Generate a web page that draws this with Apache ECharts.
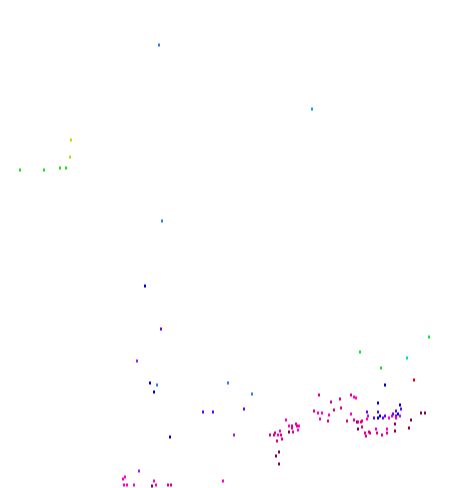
<!DOCTYPE html>
<html>
<head>
<meta charset="utf-8">
<script src="https://cdn.jsdelivr.net/npm/echarts@6/dist/echarts.min.js"></script>
<style>html,body{margin:0;padding:0;background:#fff}#c{width:465px;height:488px}</style>
</head>
<body>
<div id="c"></div>
<script>
// x values, y values (y axis inverted), and colour-group value for each point
var xs = [159,312,71,70,20,44,60,66,162,
  145,161,137,150,157,154,228,203,213,170,252,244,234,
  429,360,407,381,414,385,378,400,401,
  139,125,123,124,127,134,154,156,152,168,171,223,
  286,289,292,296,297,299,292,280,289,293,298,275,270,274,278,281,277,282,279,276,279,
  319,331,340,351,354,314,318,322,329,334,341,320,328,351,347,354,357,358,356,
  367,378,368,367,374,378,380,383,385,389,392,393,396,398,396,400,396,411,421,425,395,409,395,
  362,365,366,369,370,377,382,387,387,376,362,358,361];
var ys = [45,109,140,157,170,170,168,168,221,
  286,329,361,383,385,392,383,412,412,437,394,409,435,
  337,352,358,368,380,385,403,405,409,
  471,477,479,485,485,485,481,485,486,485,485,481,
  420,426,426,424,426,426,428,431,432,432,430,433,435,435,435,435,441,439,452,456,464,
  395,402,399,395,397,411,413,413,415,410,408,419,421,414,421,420,422,429,398,
  412,412,416,419,418,418,416,418,416,418,416,414,411,414,416,416,418,420,413,413,424,428,431,
  427,433,436,432,433,433,435,429,433,429,421,422,422];
var groups = [4,3,0,0,1,1,1,1,4,
  5,6,7,5,4,5,4,6,6,5,4,6,7,
  1,1,2,1,11,5,5,5,6,
  7,8,8,8,8,8,8,8,10,9,9,8,
  8,8,9,9,9,8,9,8,10,9,8,9,9,9,8,9,9,9,10,10,10,
  9,9,9,9,8,9,8,8,8,9,9,8,9,8,9,9,10,10,8,
  6,6,7,8,6,5,5,6,6,8,8,6,6,5,6,7,8,10,10,10,10,10,10,
  9,9,9,9,9,9,9,8,9,8,9,9,9];
var groupColors = ['#a8e800','#14e61e','#00e68c','#00a8ff','#2f7bff','#0000d8','#6a00ff','#a020f0','#ff00d0','#e0008a','#8a0050','#ee0000'];

var data = xs.map(function(x,i){ return [x, ys[i], groups[i]]; });
var chart = echarts.init(document.getElementById('c'), null, {renderer:'canvas'});
chart.setOption({
  animation:false,
  grid:{left:0,right:0,top:0,bottom:0},
  xAxis:{type:'value',min:0,max:465,show:false},
  yAxis:{type:'value',min:0,max:488,inverse:true,show:false},
  visualMap:{show:false,type:'continuous',dimension:2,min:0,max:11,inRange:{color:groupColors}},
  series:[{type:'scatter',symbol:'rect',symbolSize:[2,3],data:data,itemStyle:{opacity:1}}]
});
</script>
</body>
</html>
